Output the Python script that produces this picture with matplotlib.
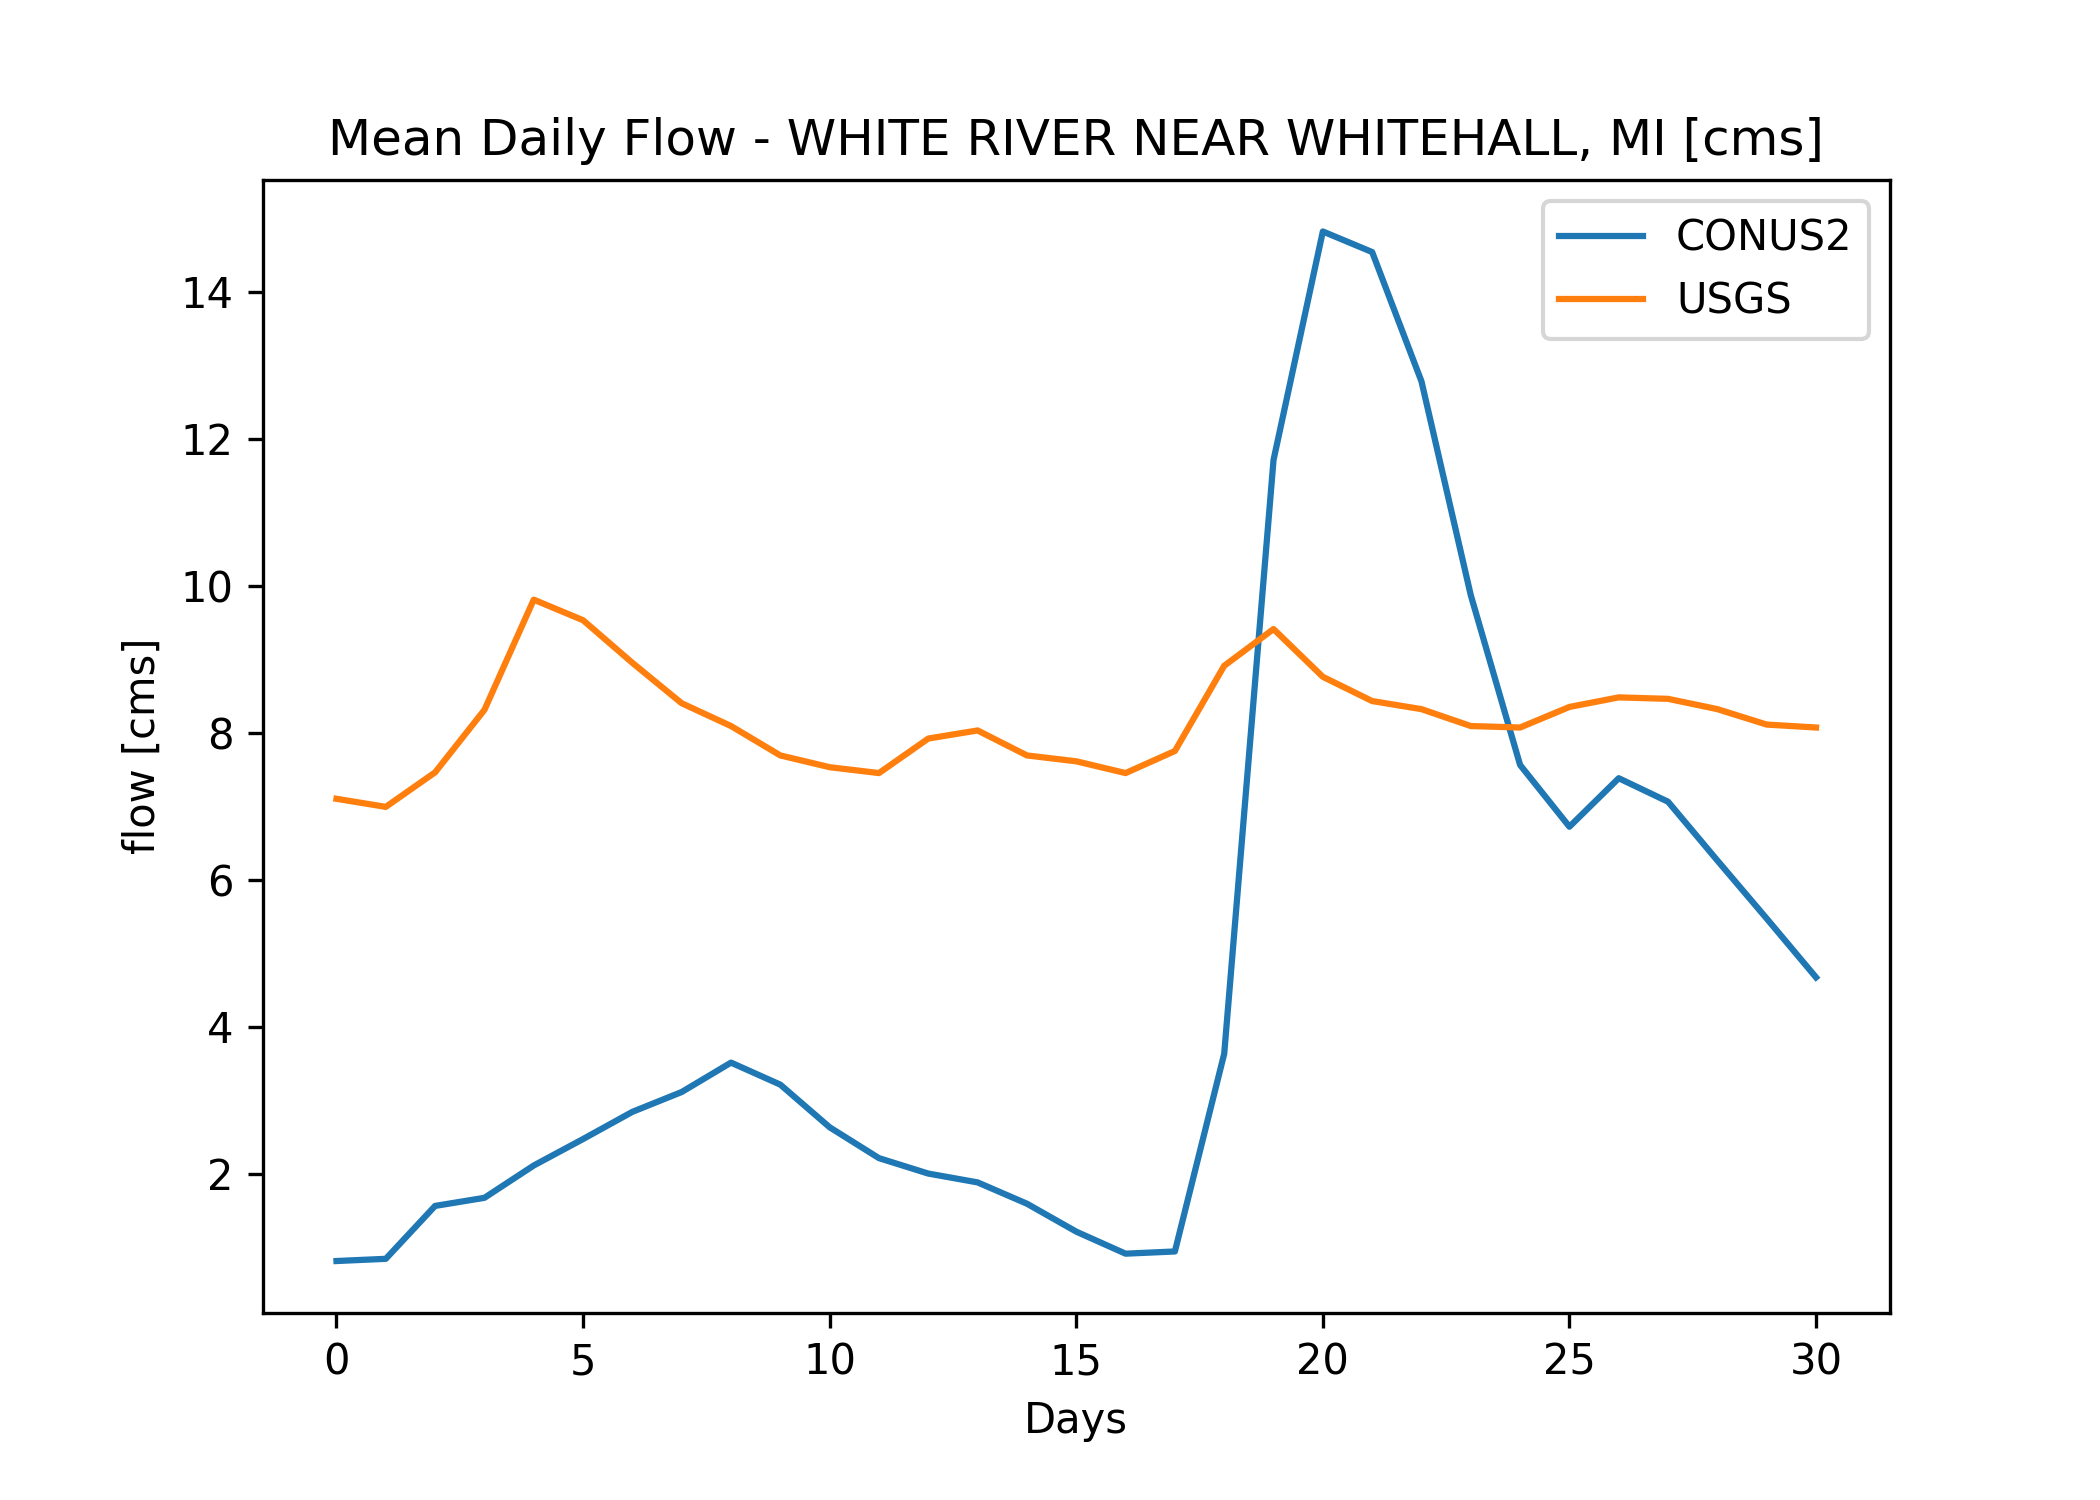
import numpy as np
import matplotlib
matplotlib.use('Agg')
import matplotlib.pyplot as plt

# Dane (przepływ dobowy, m3/s)
days = np.arange(31)
conus2 = [0.81, 0.84, 1.56, 1.67, 2.11, 2.47, 2.84, 3.11, 3.51, 3.21,
          2.63, 2.21, 2.00, 1.88, 1.59, 1.21, 0.91, 0.94, 3.63, 11.71,
          14.82, 14.54, 12.78, 9.87, 7.56, 6.72, 7.38, 7.06, 6.26, 5.47,
          4.67]
usgs = [7.10, 6.99, 7.46, 8.31, 9.81, 9.53, 8.95, 8.40, 8.09, 7.69,
        7.53, 7.45, 7.92, 8.03, 7.69, 7.61, 7.45, 7.75, 8.91, 9.41,
        8.76, 8.43, 8.32, 8.09, 8.07, 8.35, 8.48, 8.46, 8.32, 8.11,
        8.07]

fig, ax = plt.subplots(figsize=(7, 5))
fig.subplots_adjust(bottom=0.125)
ax.plot(days, conus2, label='CONUS2')
ax.plot(days, usgs, label='USGS')
ax.set_title('Mean Daily Flow - WHITE RIVER NEAR WHITEHALL, MI [cms]')
ax.set_xlabel('Days')
ax.set_ylabel('flow [cms]')
ax.legend()
fig.savefig('out.png', dpi=300)
